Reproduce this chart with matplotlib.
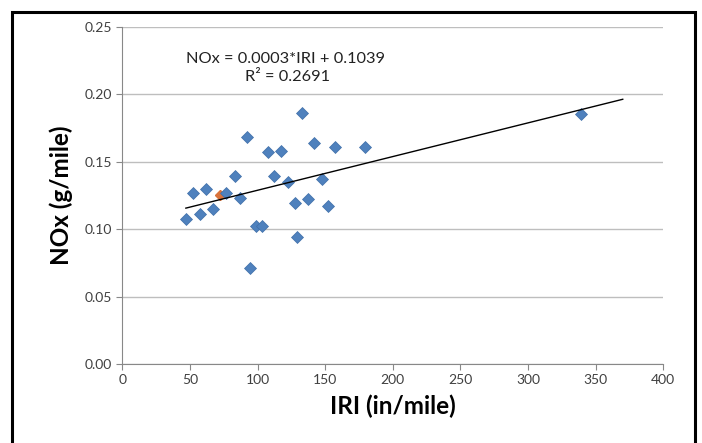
import matplotlib
matplotlib.use("Agg")
import matplotlib.pyplot as plt
from matplotlib.patches import Rectangle

plt.rcParams["font.family"] = ["Lato", "DejaVu Sans"]

# IRI (in/mile) vs NOx (g/mile)
iri = [47, 52, 57.5, 62, 67, 77, 83, 87, 92.5, 94.5, 98.5, 103,
       107.5, 112, 117, 122.5, 127.5, 129.5, 132.5, 137, 142, 147.5,
       152, 157, 179.5, 339]
nox = [0.1073, 0.1266, 0.1111, 0.1295, 0.1149, 0.1266, 0.1396, 0.1229,
       0.1686, 0.0710, 0.1023, 0.1023, 0.1570, 0.1396, 0.1582, 0.1347,
       0.1196, 0.0944, 0.1859, 0.1221, 0.1637, 0.1370, 0.1174, 0.1607,
       0.1607, 0.1852]

# one stray point from a second series, mostly hidden
extra_iri = [72]
extra_nox = [0.1252]

# linear trend line
slope = 0.00025
intercept = 0.1039
trend_x = [47, 370]

fig = plt.figure(figsize=(7.02, 4.43), dpi=100)
ax = fig.add_axes([0.1742, 0.1783, 0.7707, 0.7607])

# outer chart frame
fig.patches.append(Rectangle((0.017, -0.05), 0.973, 1.022, transform=fig.transFigure,
                             fill=False, edgecolor="black", linewidth=2.2))

ax.plot(extra_iri, extra_nox, "D", color="#D9733B", markersize=5.5, zorder=2)
ax.plot(iri, nox, "D", color="#4F81BD", markersize=6.5, markeredgewidth=0.5,
        markeredgecolor="#3F6FA8", zorder=3)
ax.plot(trend_x, [slope * x + intercept for x in trend_x], color="black", linewidth=1, zorder=4)

ax.set_xlim(0, 400)
ax.set_ylim(0, 0.25)
ax.set_xticks(range(0, 401, 50))
ax.set_yticks([0, 0.05, 0.10, 0.15, 0.20, 0.25])
ax.set_yticklabels(["0.00", "0.05", "0.10", "0.15", "0.20", "0.25"])
ax.yaxis.grid(True, color="#BEBEBE", linewidth=1)
ax.set_axisbelow(True)

for s in ["top", "right"]:
    ax.spines[s].set_visible(False)
for s in ["left", "bottom"]:
    ax.spines[s].set_color("#888888")
ax.tick_params(axis="both", colors="#888888", labelcolor="#404040", labelsize=10, length=4, direction="out")

ax.set_xlabel("IRI (in/mile)", fontsize=17.5, fontweight="bold", labelpad=6)
ax.set_ylabel("NOx (g/mile)", fontsize=17.5, fontweight="bold", labelpad=8)

ax.text(0.302, 0.906, "NOx = 0.0003*IRI + 0.1039", transform=ax.transAxes,
        ha="center", va="center", fontsize=11.8, color="#222222")
ax.text(0.305, 0.852, "R² = 0.2691", transform=ax.transAxes,
        ha="center", va="center", fontsize=11.8, color="#222222")

fig.savefig("out.png", dpi=100)
